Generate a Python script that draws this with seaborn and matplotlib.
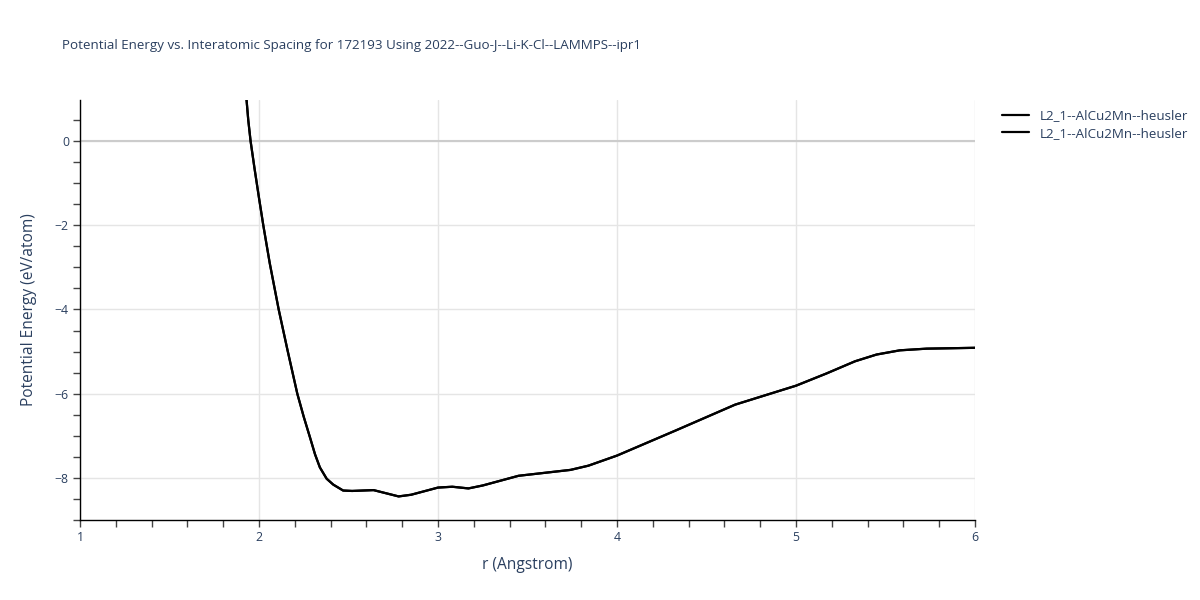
import numpy as np
import pandas as pd
import matplotlib
matplotlib.use("Agg")
import matplotlib.pyplot as plt
import seaborn as sns
from matplotlib.ticker import MultipleLocator

# values
r_vals = [1.93, 1.94, 1.953, 1.975, 2.0, 2.024, 2.06, 2.11, 2.16, 2.214, 2.25, 2.285,
          2.313, 2.34, 2.378, 2.415, 2.47, 2.52, 2.64, 2.78, 2.85, 3.0, 3.08, 3.17,
          3.25, 3.45, 3.74, 3.84, 4.0, 4.33, 4.66, 5.0, 5.17, 5.33, 5.45, 5.58, 5.73,
          5.87, 6.0]
energy = [1.0, 0.5, 0.0, -0.65, -1.35, -2.0, -2.9, -4.0, -4.98, -6.0, -6.55, -7.04,
          -7.44, -7.75, -8.02, -8.16, -8.3, -8.31, -8.29, -8.44, -8.4, -8.23, -8.21, -8.25,
          -8.18, -7.95, -7.81, -7.71, -7.47, -6.87, -6.26, -5.81, -5.52, -5.23, -5.07,
          -4.97, -4.93, -4.92, -4.91]
series_names = ["L2_1--AlCu2Mn--heusler", "L2_1--AlCu2Mn--heusler"]

title = "Potential Energy vs. Interatomic Spacing for 172193 Using 2022--Guo-J--Li-K-Cl--LAMMPS--ipr1"
text_color = "#2a3f5f"

sns.set_theme(style="white")
plt.rcParams["font.family"] = ["Open Sans", "DejaVu Sans"]

df = pd.DataFrame({"r": r_vals, "E": energy})

fig = plt.figure(figsize=(12, 6), dpi=100)
ax = fig.add_axes([80 / 1200, 1 - 520 / 600, 895 / 1200, 420 / 600])

for name in series_names:
    sns.lineplot(data=df, x="r", y="E", ax=ax, color="black", linewidth=1.6,
                 label=name, sort=False)

ax.set_xlim(1, 6)
ax.set_ylim(-9, 0.976)

ax.xaxis.set_major_locator(MultipleLocator(1))
ax.xaxis.set_minor_locator(MultipleLocator(0.2))
ax.yaxis.set_major_locator(MultipleLocator(2))
ax.yaxis.set_minor_locator(MultipleLocator(0.5))

ax.grid(True, which="major", color="#e5e5e5", linewidth=1)
ax.axhline(0, color="#cccccc", linewidth=1.5, zorder=1)
ax.set_axisbelow(True)

for side in ["top", "right"]:
    ax.spines[side].set_visible(False)
for side in ["left", "bottom"]:
    ax.spines[side].set_color("black")
    ax.spines[side].set_linewidth(1)

ax.tick_params(axis="both", which="both", direction="out", color="#444444",
               labelcolor=text_color, labelsize=8.8, bottom=True, left=True)
ax.tick_params(axis="both", which="major", length=5, width=1, pad=3)
ax.tick_params(axis="both", which="minor", length=5, width=1)

ax.set_yticks([-8, -6, -4, -2, 0])
ax.set_yticklabels(["\u22128", "\u22126", "\u22124", "\u22122", "0"])

ax.set_xlabel("r (Angstrom)", fontsize=11.2, color=text_color, labelpad=9)
ax.set_ylabel("Potential Energy (eV/atom)", fontsize=11.2, color=text_color, labelpad=13)

fig.text(62 / 1200, 1 - 45 / 600, title, fontsize=9.65, color=text_color,
         ha="left", va="center")

leg = ax.legend(loc="upper left", bbox_to_anchor=(1.02, 1.0), frameon=False,
                fontsize=9.6, handlelength=2.0, labelspacing=0.35, borderaxespad=0.3)
for t in leg.get_texts():
    t.set_color(text_color)

fig.savefig("out.png", dpi=100)
